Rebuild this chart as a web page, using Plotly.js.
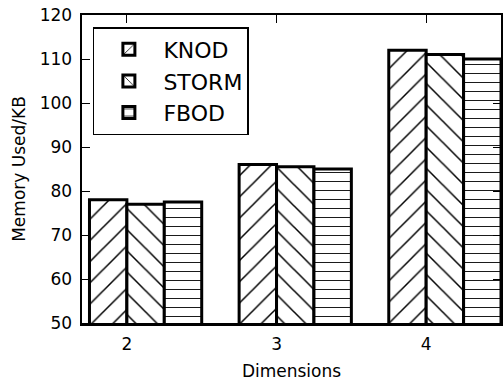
<!DOCTYPE html>
<html>
<head>
<meta charset="utf-8">
<script src="https://cdn.plot.ly/plotly-3.0.1.min.js"></script>
<style>html,body{margin:0;padding:0;background:#fff;}#chart{width:503px;height:382px;}</style>
</head>
<body>
<div id="chart"></div>
<script>
const dims = [2, 3, 4];
const seriesNames = ["KNOD", "STORM", "FBOD"];
const knod = [78, 86, 112];
const storm = [77, 85.5, 111];
const fbod = [77.5, 85, 110];
const tickLabels = ["2", "3", "4"];

const font = "DejaVu Sans, Liberation Sans, sans-serif";
const hatches = ["/", "\\", "-"];
const hatchSizes = [15, 15, 9];
const offsets = [-0.25, 0, 0.25];
const vals = [knod, storm, fbod];

const traces = seriesNames.map((name, i) => ({
  type: "bar",
  name: name,
  x: dims,
  y: vals[i],
  width: 0.25,
  offset: offsets[i],
  marker: {
    color: "#ffffff",
    line: {color: "#000000", width: 3},
    pattern: {shape: hatches[i], size: hatchSizes[i], solidity: 0.1, fgcolor: "#000000", bgcolor: "#ffffff", fillmode: "replace"}
  },
  hoverinfo: "skip"
}));

const layout = {
  width: 503, height: 382,
  margin: {l: 82, r: 2, t: 15, b: 59},
  paper_bgcolor: "#ffffff", plot_bgcolor: "#ffffff",
  barmode: "overlay",
  font: {family: font, color: "#000000", size: 17},
  xaxis: {
    range: [1.7, 4.5],
    tickvals: dims, ticktext: tickLabels,
    ticks: "inside", ticklen: 8, tickwidth: 1, tickcolor: "#000",
    showline: true, linecolor: "#000", linewidth: 2.5, mirror: "ticks",
    showgrid: false, zeroline: false,
    tickfont: {size: 17},
    ticklabelstandoff: 4,
    title: {text: "Dimensions", font: {size: 17}, standoff: 12}
  },
  yaxis: {
    range: [50, 120],
    tickvals: [50, 60, 70, 80, 90, 100, 110, 120],
    ticks: "inside", ticklen: 8, tickwidth: 1, tickcolor: "#000",
    showline: true, linecolor: "#000", linewidth: 2.5, mirror: "ticks",
    showgrid: false, zeroline: false,
    tickfont: {size: 17},
    ticklabelstandoff: 4,
    title: {text: "Memory Used/KB", font: {size: 17}, standoff: 10}
  },
  legend: {
    x: 0.026, y: 0.961, xanchor: "left", yanchor: "top",
    bgcolor: "#ffffff", bordercolor: "#000", borderwidth: 1.5,
    font: {size: 22, family: font},
    itemwidth: 59
  },
  showlegend: true
};

Plotly.newPlot("chart", traces, layout, {displayModeBar: false, staticPlot: true});
</script>
</body>
</html>
